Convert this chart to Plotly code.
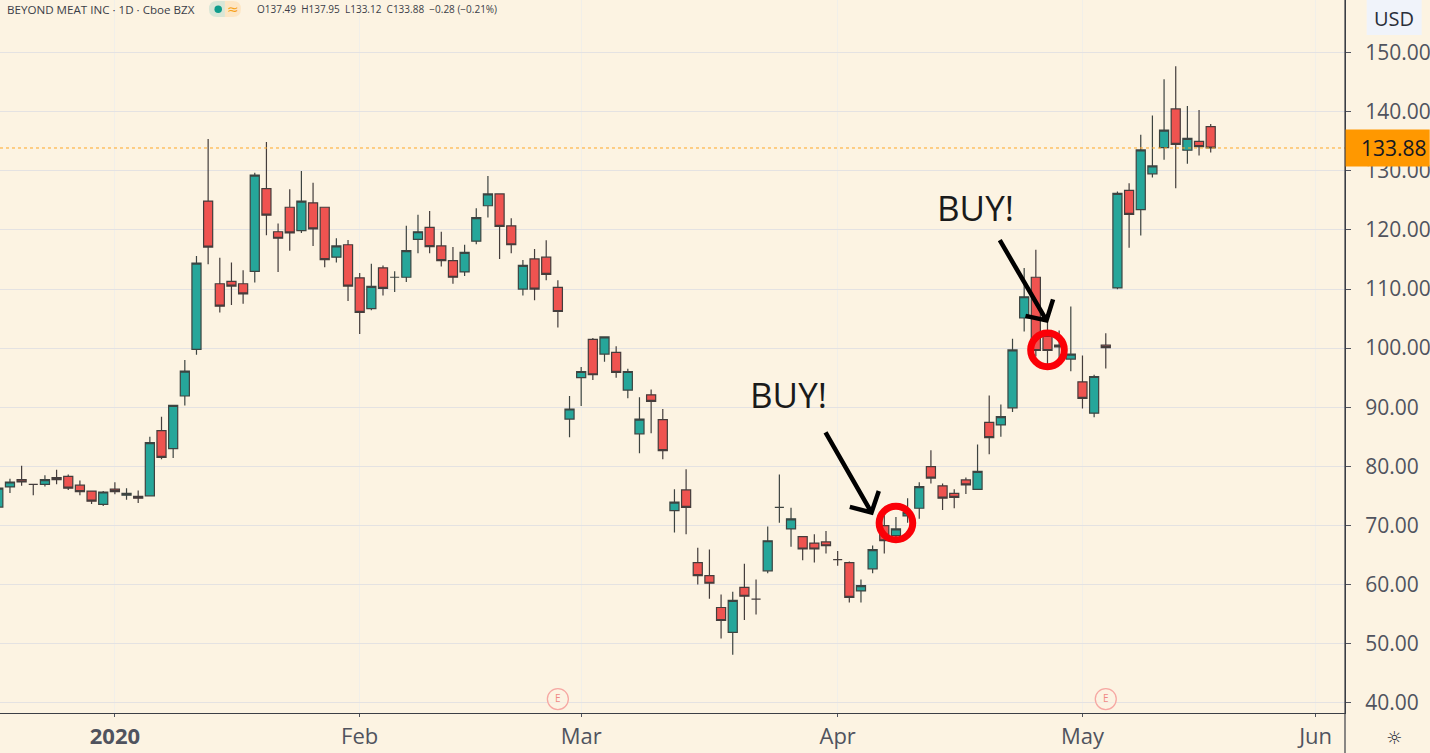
import plotly.graph_objects as go

# daily OHLC, one entry per trading day
open_ = [73.1, 76.5, 77.74, 76.95, 76.95, 78.1, 78.3, 76.8, 75.8, 73.55, 76.15, 75.1, 74.9, 75.0, 86.05, 83.0, 91.9, 99.8, 124.9, 110.9, 111.3,
         110.9, 113.0, 127.0, 119.7, 123.85, 119.9, 124.6, 123.85, 115.4, 117.5, 111.9, 106.7, 113.6, 112.0, 112.0, 118.4, 120.45, 117.3, 114.8, 112.9,
         118.1, 124.1, 126.1, 120.7, 110.0, 115.1, 115.4, 110.3, 88.0, 95.0, 101.5, 99.0, 99.3, 92.9, 85.5, 92.1, 87.9, 72.5, 76.0, 63.7,
         61.5, 56.1, 51.9, 59.5, 57.5, 62.3, 73.05, 69.4, 68.1, 67.0, 67.2, 64.2, 63.7, 58.9, 62.65, 69.95, 68.25, 71.6, 72.9, 79.95,
         76.7, 75.4, 77.7, 76.1, 87.45, 87.0, 89.9, 105.1, 112.0, 102.0, 100.5, 98.15, 94.3, 89.0, 100.5, 110.2, 126.7, 123.45, 129.5, 133.95,
         140.5, 133.5, 135.0, 137.49]
high = [76.6, 77.9, 80.1, 77.0, 78.5, 79.4, 78.6, 77.6, 75.9, 75.8, 77.3, 76.3, 75.9, 85.0, 88.4, 90.4, 98.0, 115.6, 135.4, 115.3, 114.5,
        113.2, 129.7, 134.9, 121.1, 126.9, 130.0, 128.0, 123.85, 118.6, 118.3, 112.7, 114.3, 114.0, 113.0, 120.7, 122.6, 123.2, 119.7, 117.1, 117.5,
        123.7, 129.15, 126.1, 122.0, 114.9, 116.8, 118.25, 111.5, 91.9, 96.8, 101.7, 102.0, 100.3, 96.5, 91.7, 93.0, 89.7, 76.1, 79.5, 66.2,
        65.9, 58.3, 58.75, 63.5, 60.85, 69.8, 78.6, 73.0, 68.1, 68.5, 69.05, 65.65, 63.9, 60.85, 66.6, 71.9, 71.4, 74.6, 77.3, 82.7,
        77.1, 76.1, 78.1, 83.7, 92.0, 90.45, 101.6, 113.55, 116.65, 104.8, 103.0, 107.05, 98.75, 95.5, 102.5, 126.5, 127.9, 136.1, 139.4, 145.5,
        147.7, 141.0, 140.3, 137.95]
low = [73.0, 75.5, 76.7, 75.1, 76.6, 76.95, 76.0, 75.1, 73.6, 73.3, 75.25, 74.35, 73.8, 75.0, 81.2, 81.4, 90.3, 98.9, 114.2, 106.05, 107.3,
       107.5, 111.1, 119.1, 112.9, 116.5, 119.5, 117.3, 113.7, 114.5, 108.0, 102.4, 106.4, 108.9, 109.5, 111.2, 116.05, 116.05, 113.8, 110.9, 112.2,
       117.6, 122.1, 115.1, 116.05, 108.9, 108.1, 111.5, 103.5, 84.9, 90.2, 94.6, 97.7, 95.0, 91.5, 82.2, 85.6, 81.2, 68.8, 68.5, 60.0,
       57.6, 50.85, 48.1, 54.0, 54.9, 61.9, 70.45, 66.4, 64.1, 63.7, 65.25, 63.15, 56.95, 56.95, 61.9, 65.25, 67.8, 70.45, 71.1, 77.1,
       72.6, 72.9, 75.3, 76.0, 82.05, 85.0, 89.2, 102.8, 98.6, 97.2, 98.0, 96.1, 89.8, 88.3, 96.55, 109.95, 117.0, 119.05, 128.9, 131.9,
       127.05, 131.2, 132.6, 133.12]
close = [76.3, 77.34, 77.34, 76.95, 77.74, 77.74, 76.3, 75.7, 74.1, 75.65, 75.7, 75.4, 74.6, 84.0, 81.5, 90.3, 96.1, 114.4, 117.1, 107.1, 110.5,
         109.2, 129.3, 122.5, 118.6, 119.5, 124.9, 120.2, 115.0, 117.3, 110.5, 106.05, 110.45, 110.1, 112.0, 116.5, 119.7, 117.2, 114.8, 112.0, 116.2,
         122.1, 126.1, 120.6, 117.5, 114.0, 110.0, 112.5, 106.2, 89.7, 96.05, 95.5, 101.9, 95.9, 96.05, 88.0, 91.0, 82.65, 73.95, 73.05, 61.5,
         60.2, 53.9, 57.3, 58.0, 57.5, 67.4, 73.05, 71.1, 66.0, 66.0, 66.55, 64.2, 57.8, 59.8, 65.9, 67.4, 69.4, 72.15, 76.55, 78.0,
         74.6, 74.75, 76.85, 79.15, 84.85, 88.4, 99.7, 108.7, 99.6, 99.6, 100.2, 99.0, 91.5, 95.2, 100.1, 126.2, 122.65, 133.55, 130.85, 136.9,
         134.5, 135.5, 134.1, 133.88]
days = list(range(len(close)))

price_ticks = [40, 50, 60, 70, 80, 90, 100, 110, 120, 130, 140, 150]
month_ticks = [10, 31, 50, 72, 93, 113]
month_labels = ['<b>2020</b>', 'Feb', 'Mar', 'Apr', 'May', 'Jun']
earnings_days = [48, 95]
earnings_level = [40.6, 40.6]
buy_days = [77, 90]
buy_prices = [70.4, 99.7]

W, H = 1430, 753
PLOT_W, PLOT_H = 1345.3, 712.7
X_RANGE = [0.146, 115.52]
Y_RANGE = [38.24, 158.93]
BG = '#fcf3e2'
TEXT = '#50535e'


# overlay pieces are placed by screen pixel, so convert to paper coords
def px(x):
    return x / PLOT_W


def py(y):
    return 1 - y / PLOT_H


def arrow_path(start, tip, barb1, barb2):
    return (f'M {px(start[0])} {py(start[1])} L {px(tip[0])} {py(tip[1])} '
            f'M {px(barb1[0])} {py(barb1[1])} L {px(tip[0])} {py(tip[1])} L {px(barb2[0])} {py(barb2[1])}')


def label(x, y, text, size, color, family='Open Sans', xanchor='center'):
    ann = dict(xref='paper', yref='paper', x=px(x), y=py(y), xanchor=xanchor, yanchor='middle',
               text=text, showarrow=False, font=dict(family=family, size=size, color=color))
    # paper annotations over the scales would push the margins, so pin those to the axis end and shift
    if x > PLOT_W:
        ann.update(xref='x', x=X_RANGE[1], xshift=x - PLOT_W)
    if y > PLOT_H:
        ann.update(yref='y', y=Y_RANGE[0], yshift=PLOT_H - y)
    return ann


fig = go.Figure()

fig.add_trace(go.Candlestick(
    x=days, open=open_, high=high, low=low, close=close,
    increasing=dict(line=dict(color='#3d4441', width=1.2), fillcolor='#26a69a'),
    decreasing=dict(line=dict(color='#443d3c', width=1.2), fillcolor='#ef5350'),
    whiskerwidth=0, showlegend=False,
))

# earnings markers
fig.add_trace(go.Scatter(
    x=earnings_days, y=earnings_level, mode='markers+text', text=['E', 'E'],
    textposition='middle center', textfont=dict(family='Open Sans', size=10, color='#f08a85'),
    marker=dict(size=21, color='rgba(252,243,226,0.6)', line=dict(color='#f6a8a3', width=1.3)),
    showlegend=False,
))

shapes = [
    # last price line
    dict(type='line', xref='paper', x0=0, x1=1, yref='y', y0=close[-1], y1=close[-1],
         line=dict(color='#ffa726', width=1, dash='dot')),
    # last price tag
    dict(type='rect', xref='paper', x0=1, x1=px(W), yref='y', ysizemode='pixel', yanchor=close[-1],
         y0=-18.5, y1=18.5, fillcolor='#ff9800', line=dict(width=0)),
    # right scale border runs down through the time scale
    dict(type='line', xref='paper', x0=1, x1=1, yref='paper', y0=py(0), y1=py(H),
         line=dict(color='#3c3f46', width=1.2)),
    # USD button
    dict(type='rect', xref='paper', yref='paper', x0=px(1367), x1=px(1422), y0=py(0), y1=py(35),
         fillcolor='#f0f3fa', line=dict(width=0)),
    # status pill
    dict(type='path', xref='paper', yref='paper',
         path=f'M {px(225)} {py(1)} L {px(217)} {py(1)} Q {px(209)} {py(1)} {px(209)} {py(9)} '
              f'Q {px(209)} {py(17)} {px(217)} {py(17)} L {px(225)} {py(17)} Z',
         fillcolor='#d9e6d6', line=dict(width=0)),
    dict(type='path', xref='paper', yref='paper',
         path=f'M {px(225)} {py(1)} L {px(233)} {py(1)} Q {px(241)} {py(1)} {px(241)} {py(9)} '
              f'Q {px(241)} {py(17)} {px(233)} {py(17)} L {px(225)} {py(17)} Z',
         fillcolor='#fde6c4', line=dict(width=0)),
    dict(type='circle', xref='paper', yref='paper', x0=px(214.5), x1=px(222), y0=py(5.5), y1=py(13),
         fillcolor='#0f9d8c', line=dict(width=0)),
]

# red circles round the entry candles
for day, price in zip(buy_days, buy_prices):
    shapes.append(dict(type='circle', xref='x', yref='y', xsizemode='pixel', ysizemode='pixel',
                       xanchor=day, yanchor=price, x0=-16.8, x1=16.8, y0=-16.8, y1=16.8,
                       line=dict(color='#fb0007', width=7)))

# hand drawn arrows
for start, tip, barb1, barb2 in [
    ((825.7, 432.3), (871.7, 512.3), (850, 506.7), (879, 490.7)),
    ((1000, 240), (1046.7, 320.3), (1025.7, 315.7), (1053.3, 299.3)),
]:
    shapes.append(dict(type='path', xref='paper', yref='paper', path=arrow_path(start, tip, barb1, barb2),
                       line=dict(color='black', width=4.5)))

annotations = [
    label(1394, 148, f'{close[-1]:.2f}', 21, '#131722'),
    label(1394.5, 18, 'USD', 20, '#2a2e39'),
    label(1394.5, 737, '☼', 18, '#2a2e39', family='DejaVu Sans'),
    label(5, 9, 'BEYOND MEAT INC · 1D · Cboe BZX', 11.6, '#3b3e48', xanchor='left'),
    label(233, 9, '≈', 14, '#f7a21b', family='DejaVu Sans'),
    label(255, 9, 'O137.49  H137.95  L133.12  C133.88  −0.28 (−0.21%)', 10, '#3b3e48', xanchor='left'),
    label(748, 394, 'BUY!', 35, '#1a1a1a', xanchor='left'),
    label(935, 207, 'BUY!', 35, '#1a1a1a', xanchor='left'),
]

fig.update_layout(
    width=W, height=H,
    margin=dict(l=0, r=W - PLOT_W, t=0, b=H - PLOT_H, pad=0),
    paper_bgcolor=BG, plot_bgcolor=BG,
    boxgap=0.22, boxgroupgap=0,
    shapes=shapes, annotations=annotations,
    xaxis=dict(
        automargin=False,
        range=X_RANGE, rangeslider=dict(visible=False),
        tickmode='array', tickvals=month_ticks, ticktext=month_labels,
        ticks='outside', ticklen=3, tickcolor='#50535e', ticklabelstandoff=0,
        tickfont=dict(family='Open Sans', size=22, color=TEXT),
        showgrid=True, gridcolor='#f1efe9', gridwidth=1, zeroline=False,
        showline=True, linecolor='#3c3f46', linewidth=1.2,
    ),
    yaxis=dict(
        automargin=False,
        range=Y_RANGE, side='right',
        tickmode='array', tickvals=price_ticks, ticktext=[f'{p:.2f}' for p in price_ticks],
        ticks='outside', ticklen=5, tickcolor='#50535e', ticklabelstandoff=10,
        tickfont=dict(family='Open Sans', size=21, color=TEXT),
        showgrid=True, gridcolor='#e4e2e2', gridwidth=1, zeroline=False,
        showline=True, linecolor='#3c3f46', linewidth=1.2,
    ),
)

fig.write_html('out.html', config=dict(displayModeBar=False), post_script="document.body.style.margin='0';")
